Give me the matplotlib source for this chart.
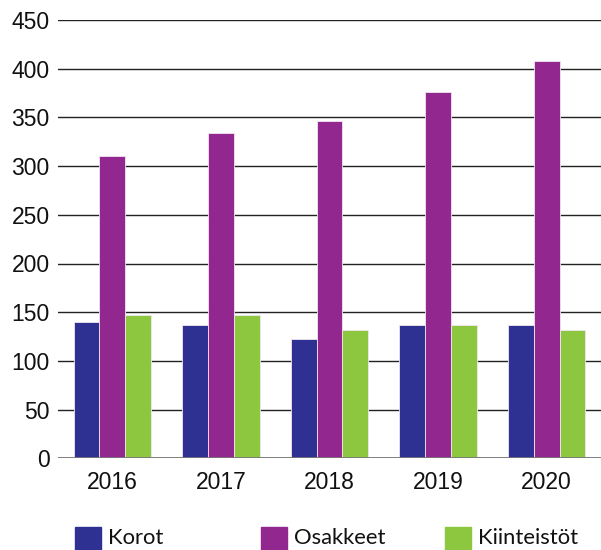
import matplotlib
matplotlib.use("Agg")
import matplotlib.pyplot as plt
import numpy as np
from matplotlib.patches import Rectangle

years = ["2016", "2017", "2018", "2019", "2020"]
series_names = ["Korot", "Osakkeet", "Kiinteistöt"]
korot = [140, 137, 122, 137, 137]
osakkeet = [310, 334, 346, 376, 408]
kiinteistot = [147, 147, 132, 137, 132]
yticks = [0, 50, 100, 150, 200, 250, 300, 350, 400, 450]

colors = ["#2E3192", "#92278F", "#8DC63F"]

W, H = 601, 550
fig = plt.figure(figsize=(W / 100, H / 100), dpi=100)
ax = fig.add_axes([58 / W, 1 - 458.3 / H, 1 - 58 / W, (458.3 - 20) / H])

x = np.arange(len(years))
bw = 0.238
for i, (vals, c) in enumerate(zip([korot, osakkeet, kiinteistot], colors)):
    ax.bar(x + (i - 1) * bw, vals, width=bw, color=c, edgecolor="#f0e6f0",
           linewidth=0.6, zorder=3)

ax.set_xlim(-0.5, len(years) - 0.5)
ax.set_ylim(0, 450)
ax.set_yticks(yticks)
ax.set_xticks(x)
ax.set_xticklabels(years)
ax.grid(axis="y", color="#222222", linewidth=1.0, zorder=0)
ax.axhline(0, color="#777777", linewidth=2, zorder=4)
for s in ax.spines.values():
    s.set_visible(False)
ax.tick_params(axis="both", length=0, labelsize=16.5, labelcolor="#111111")
ax.tick_params(axis="y", pad=6)
ax.tick_params(axis="x", pad=9)
for lab in ax.get_xticklabels() + ax.get_yticklabels():
    lab.set_fontfamily("Liberation Sans")

# legend
lx = [75, 261, 445]
for name, c, px in zip(series_names, colors, lx):
    fig.add_artist(Rectangle((px / W, 1 - 550 / H), 26 / W, 23 / H,
                             transform=fig.transFigure, color=c))
    fig.text((px + 33) / W, 1 - 538 / H, name, fontsize=15.8, family="Lato",
             va="center", ha="left", color="#111111")

fig.savefig("out.png", dpi=100)
